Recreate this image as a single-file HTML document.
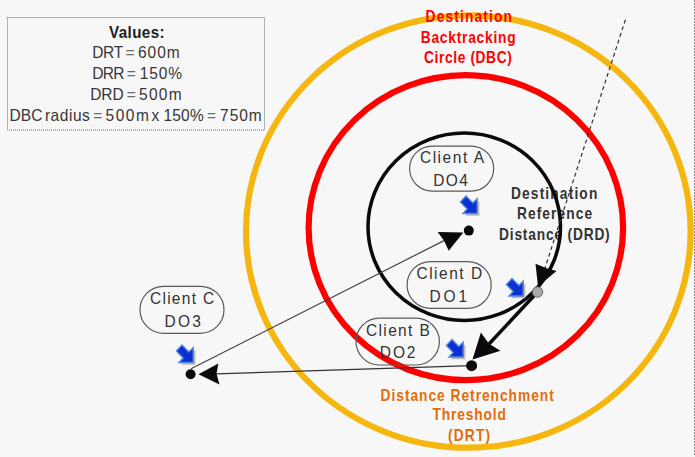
<!DOCTYPE html>
<html><head><meta charset="utf-8">
<style>
html,body{margin:0;padding:0;background:#f7f7f7;}
body{width:695px;height:457px;overflow:hidden;}
svg{display:block;}
text{font-family:"Liberation Sans",sans-serif;}
</style></head><body>
<svg width="695" height="457" viewBox="0 0 695 457">
<defs>
<g id="ic">
<polygon points="8,3 14.8,9.8 19.4,5.2 19.4,20.2 5,20.2 9.2,15.8 2.4,8.6" fill="#c2bbb0"/>
<polygon points="6,0.6 12.8,7.6 17.2,3.2 17.2,18 3,18 7.2,13.6 0.4,6.6" fill="#0b2fd0" stroke="#4f88de" stroke-width="1.4"/>
</g>
</defs>
<rect x="0" y="0" width="695" height="457" fill="#f7f7f7"/>
<rect x="7.5" y="17.5" width="257" height="112.5" fill="none" stroke="#66707a" stroke-width="1" stroke-dasharray="1,1"/>
<text transform="translate(109.10,38.00) scale(0.95,1)" font-size="16" font-weight="bold" fill="#1e1e1e" textLength="58.38" lengthAdjust="spacing">Values:</text>
<text transform="translate(92.21,58.10) scale(0.97,1)" font-size="16" font-weight="normal" fill="#363636" textLength="31.96" lengthAdjust="spacing">DRT</text>
<text transform="translate(125.59,58.10) scale(0.97,1)" font-size="16" font-weight="normal" fill="#6a6a6a" textLength="8.14" lengthAdjust="spacing">=</text>
<text transform="translate(137.91,58.10) scale(0.97,1)" font-size="16" font-weight="normal" fill="#363636" textLength="43.12" lengthAdjust="spacing">600m</text>
<text transform="translate(92.21,78.60) scale(0.97,1)" font-size="16" font-weight="normal" fill="#363636" textLength="33.33" lengthAdjust="spacing">DRR</text>
<text transform="translate(126.67,78.60) scale(0.97,1)" font-size="16" font-weight="normal" fill="#6a6a6a" textLength="7.94" lengthAdjust="spacing">=</text>
<text transform="translate(139.80,78.60) scale(0.97,1)" font-size="16" font-weight="normal" fill="#363636" textLength="43.47" lengthAdjust="spacing">150%</text>
<text transform="translate(90.15,99.60) scale(0.97,1)" font-size="16" font-weight="normal" fill="#363636" textLength="34.65" lengthAdjust="spacing">DRD</text>
<text transform="translate(126.67,99.60) scale(0.97,1)" font-size="16" font-weight="normal" fill="#6a6a6a" textLength="7.94" lengthAdjust="spacing">=</text>
<text transform="translate(139.04,99.60) scale(0.97,1)" font-size="16" font-weight="normal" fill="#363636" textLength="43.83" lengthAdjust="spacing">500m</text>
<text transform="translate(9.49,120.50) scale(0.97,1)" font-size="16" font-weight="normal" fill="#363636" textLength="34.10" lengthAdjust="spacing">DBC</text>
<text transform="translate(44.92,120.50) scale(0.97,1)" font-size="16" font-weight="normal" fill="#363636" textLength="46.27" lengthAdjust="spacing">radius</text>
<text transform="translate(93.17,120.50) scale(0.97,1)" font-size="16" font-weight="normal" fill="#6a6a6a" textLength="7.73" lengthAdjust="spacing">=</text>
<text transform="translate(105.41,120.50) scale(0.97,1)" font-size="16" font-weight="normal" fill="#363636" textLength="44.99" lengthAdjust="spacing">500m</text>
<text transform="translate(151.59,120.50) scale(0.97,1)" font-size="16" font-weight="normal" fill="#363636" textLength="7.73" lengthAdjust="spacing">x</text>
<text transform="translate(163.38,120.50) scale(0.97,1)" font-size="16" font-weight="normal" fill="#363636" textLength="41.58" lengthAdjust="spacing">150%</text>
<text transform="translate(206.95,120.50) scale(0.97,1)" font-size="16" font-weight="normal" fill="#6a6a6a" textLength="7.73" lengthAdjust="spacing">=</text>
<text transform="translate(220.09,120.50) scale(0.97,1)" font-size="16" font-weight="normal" fill="#363636" textLength="42.91" lengthAdjust="spacing">750m</text>
<ellipse cx="468.3" cy="231.5" rx="222.3" ry="216.2" fill="none" stroke="#f5b70f" stroke-width="6.2"/>
<ellipse cx="465.85" cy="227.7" rx="157.25" ry="152.5" fill="none" stroke="#ff0000" stroke-width="6.2"/>
<text transform="translate(510.99,198.50) scale(0.86,1)" font-size="16" font-weight="bold" fill="#333333" textLength="100.36" lengthAdjust="spacing">Destination</text>
<text transform="translate(516.99,219.20) scale(0.86,1)" font-size="16" font-weight="bold" fill="#333333" textLength="87.34" lengthAdjust="spacing">Reference</text>
<text transform="translate(498.99,239.90) scale(0.86,1)" font-size="16" font-weight="bold" fill="#333333" textLength="128.75" lengthAdjust="spacing">Distance (DRD)</text>
<ellipse cx="464.25" cy="226.75" rx="96.25" ry="93.75" fill="none" stroke="#0a0a0a" stroke-width="3.5"/>
<rect x="409.6" y="146.1" width="84.1" height="45" rx="22.5" ry="22.5" fill="none" stroke="#5a5a5a" stroke-width="1.2"/>
<rect x="407.1" y="261.6" width="84.1" height="46.7" rx="23.3" ry="23.3" fill="none" stroke="#5a5a5a" stroke-width="1.2"/>
<rect x="140" y="286.3" width="84" height="47" rx="23.5" ry="23.5" fill="none" stroke="#5a5a5a" stroke-width="1.2"/>
<rect x="356" y="318.1" width="83.4" height="46.9" rx="23.4" ry="23.4" fill="none" stroke="#5a5a5a" stroke-width="1.2"/>
<text transform="translate(419.94,162.90) scale(0.97,1)" font-size="16" font-weight="normal" fill="#333333" textLength="66.11" lengthAdjust="spacing">Client A</text>
<text transform="translate(433.14,186.00) scale(0.97,1)" font-size="16" font-weight="normal" fill="#333333" textLength="35.92" lengthAdjust="spacing">DO4</text>
<text transform="translate(416.46,279.00) scale(0.97,1)" font-size="16" font-weight="normal" fill="#333333" textLength="67.72" lengthAdjust="spacing">Client D</text>
<text transform="translate(429.49,302.30) scale(0.97,1)" font-size="16" font-weight="normal" fill="#333333" textLength="38.87" lengthAdjust="spacing">DO1</text>
<text transform="translate(149.94,304.40) scale(0.97,1)" font-size="16" font-weight="normal" fill="#333333" textLength="66.13" lengthAdjust="spacing">Client C</text>
<text transform="translate(164.56,327.20) scale(0.97,1)" font-size="16" font-weight="normal" fill="#333333" textLength="37.49" lengthAdjust="spacing">DO3</text>
<text transform="translate(366.03,335.60) scale(0.97,1)" font-size="16" font-weight="normal" fill="#333333" textLength="65.72" lengthAdjust="spacing">Client B</text>
<text transform="translate(379.80,358.40) scale(0.97,1)" font-size="16" font-weight="normal" fill="#333333" textLength="36.81" lengthAdjust="spacing">DO2</text>
<use href="#ic" x="460" y="195.5"/>
<use href="#ic" x="506" y="278"/>
<use href="#ic" x="176" y="344.5"/>
<use href="#ic" x="446" y="339"/>
<line x1="191" y1="368.8" x2="446" y2="239.6" stroke="#444" stroke-width="1.2"/>
<line x1="471.6" y1="365.7" x2="216" y2="373.8" stroke="#333" stroke-width="1.2"/>
<line x1="537.5" y1="292" x2="489" y2="344" stroke="#0a0a0a" stroke-width="3.5"/>
<line x1="625.4" y1="19.7" x2="545" y2="268" stroke="#333" stroke-width="1.2" stroke-dasharray="4,3"/>
<polygon points="463.3,232.4 437.6,232.1 444,240.6 448.7,250.8" fill="#0a0a0a"/>
<polygon points="472.5,359.5 480.9,332.4 489,343.8 500.5,350.8" fill="#0a0a0a"/>
<polygon points="198.5,374.3 218.3,363.5 216.5,373.7 219.5,384.5" fill="#0a0a0a"/>
<polygon points="538,286.6 535.5,263.7 546.6,268.3 556.5,270.9" fill="#0a0a0a"/>
<circle cx="468.8" cy="230.6" r="5" fill="#0a0a0a"/>
<circle cx="471.6" cy="365.7" r="5.5" fill="#0a0a0a"/>
<circle cx="190.6" cy="374.3" r="5" fill="#0a0a0a"/>
<circle cx="537.5" cy="292" r="5.3" fill="#a8a8a8" stroke="#555" stroke-width="0.8"/>
<line x1="694.5" y1="0" x2="694.5" y2="455" stroke="#8a8a8a" stroke-width="1" stroke-dasharray="2,1"/>
<text transform="translate(425.58,21.60) scale(0.86,1)" font-size="16" font-weight="bold" fill="#ff0000" textLength="100.32" lengthAdjust="spacing">Destination</text>
<text transform="translate(420.76,42.50) scale(0.86,1)" font-size="16" font-weight="bold" fill="#ff0000" textLength="110.27" lengthAdjust="spacing">Backtracking</text>
<text transform="translate(424.05,63.00) scale(0.86,1)" font-size="16" font-weight="bold" fill="#ff0000" textLength="102.00" lengthAdjust="spacing">Circle (DBC)</text>
<text transform="translate(380.56,400.60) scale(0.86,1)" font-size="16" font-weight="bold" fill="#e36c0a" textLength="201.46" lengthAdjust="spacing">Distance Retrenchment</text>
<text transform="translate(432.53,420.40) scale(0.86,1)" font-size="16" font-weight="bold" fill="#e36c0a" textLength="85.22" lengthAdjust="spacing">Threshold</text>
<text transform="translate(448.02,440.70) scale(0.86,1)" font-size="16" font-weight="bold" fill="#e36c0a" textLength="48.83" lengthAdjust="spacing">(DRT)</text>
</svg>
</body></html>
